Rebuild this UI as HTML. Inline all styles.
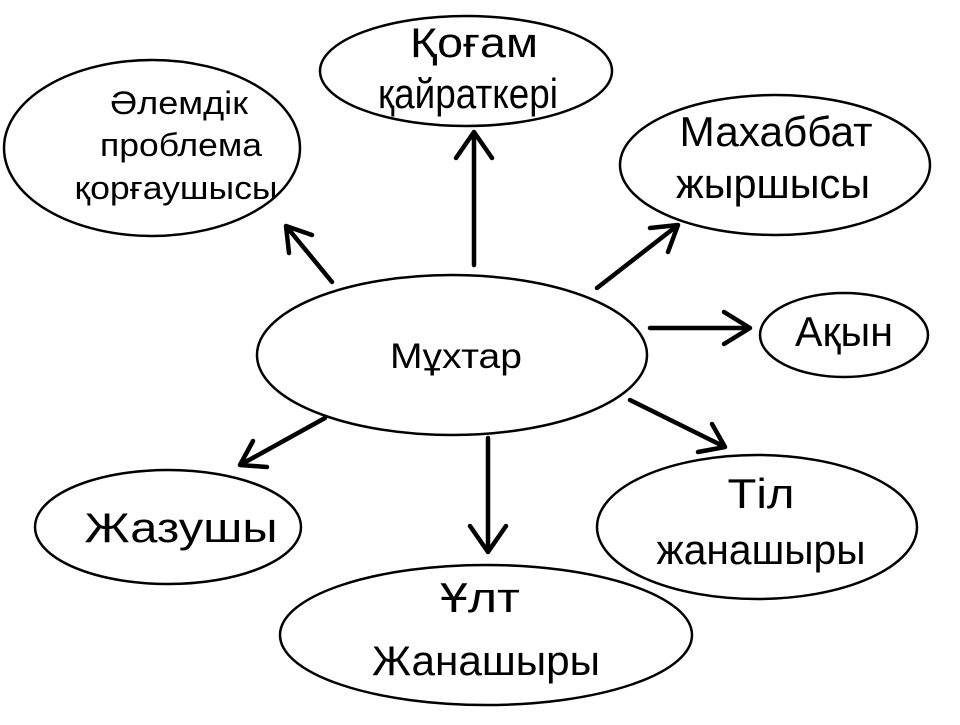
<!DOCTYPE html>
<html><head><meta charset="utf-8"><style>html,body{margin:0;padding:0;background:#fff}</style></head>
<body>
<svg width="960" height="720" viewBox="0 0 960 720" xmlns="http://www.w3.org/2000/svg" font-family="Liberation Sans, DejaVu Sans, sans-serif" fill="none">
<g stroke="#000" stroke-width="2.5" fill="#fff">
<ellipse cx="452" cy="355" rx="195" ry="80"/>
<ellipse cx="152" cy="148" rx="148" ry="88"/>
<ellipse cx="466" cy="71" rx="146" ry="55"/>
<ellipse cx="775" cy="165" rx="155" ry="70"/>
<ellipse cx="844" cy="335" rx="84" ry="42"/>
<ellipse cx="757" cy="527" rx="160" ry="72"/>
<ellipse cx="486" cy="635" rx="206" ry="70"/>
<ellipse cx="168" cy="527" rx="133" ry="57"/>
</g>
<g stroke="#000" stroke-width="4.5" stroke-linecap="round" stroke-linejoin="round">
<path d="M474 265 L474 132 M456 158 L474 132 L492 158"/>
<path d="M332 282 L286 226 M289 253 L286 226 L312 235"/>
<path d="M597 288 L678 225 M650 228 L678 225 L668 252"/>
<path d="M650 328 L750 328 M724 312 L750 328 L724 344"/>
<path d="M630 400 L725 447 M698 452 L725 447 L712 424"/>
<path d="M488 438 L488 552 M470 526 L488 552 L506 526"/>
<path d="M325 418 L240 465 M253 441 L240 465 L267 467"/>
</g>
<g fill="#000" text-anchor="middle">
<text x="456" y="368" font-size="35" textLength="132" lengthAdjust="spacingAndGlyphs">Мұхтар</text>
<text x="179" y="114" font-size="32" textLength="138" lengthAdjust="spacingAndGlyphs">Әлемдік</text>
<text x="181" y="156" font-size="32" textLength="162" lengthAdjust="spacingAndGlyphs">проблема</text>
<text x="176" y="199" font-size="32" textLength="203" lengthAdjust="spacingAndGlyphs">қорғаушысы</text>
<text x="474" y="57" font-size="42" textLength="128" lengthAdjust="spacingAndGlyphs">Қоғам</text>
<text x="468" y="108" font-size="42" textLength="180" lengthAdjust="spacingAndGlyphs">қайраткері</text>
<text x="776" y="146" font-size="42" textLength="193" lengthAdjust="spacingAndGlyphs">Махаббат</text>
<text x="773" y="198" font-size="42" textLength="194" lengthAdjust="spacingAndGlyphs">жыршысы</text>
<text x="844" y="346" font-size="42" textLength="98" lengthAdjust="spacingAndGlyphs">Ақын</text>
<text x="761" y="508" font-size="42" textLength="67" lengthAdjust="spacingAndGlyphs">Тіл</text>
<text x="761" y="564" font-size="42" textLength="209" lengthAdjust="spacingAndGlyphs">жанашыры</text>
<text x="480" y="612" font-size="42" textLength="80" lengthAdjust="spacingAndGlyphs">Ұлт</text>
<text x="486" y="675" font-size="42" textLength="228" lengthAdjust="spacingAndGlyphs">Жанашыры</text>
<text x="181" y="542" font-size="42" textLength="193" lengthAdjust="spacingAndGlyphs">Жазушы</text>
</g>
</svg>
</body></html>
